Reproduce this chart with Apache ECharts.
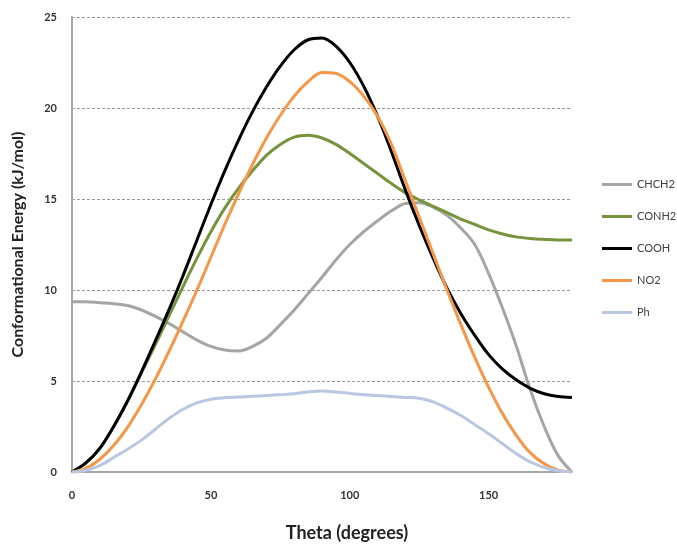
<!DOCTYPE html>
<html>
<head>
<meta charset="utf-8">
<script src="https://cdn.jsdelivr.net/npm/echarts@6/dist/echarts.min.js"></script>
<style>
  html, body { margin: 0; padding: 0; background: #fff; }
  #chart { width: 677px; height: 544px; }
</style>
</head>
<body>
<div id="chart"></div>
<script>
// theta (degrees), every 5
var theta = [0, 5, 10, 15, 20, 25, 30, 35, 40, 45, 50, 55, 60, 65, 70, 75, 80, 85, 90,
  95, 100, 105, 110, 115, 120, 125, 130, 135, 140, 145, 150, 155, 160, 165, 170, 175, 180]

// conformational energy (kJ/mol)
var chch2 = [9.35, 9.35, 9.3, 9.25, 9.15, 8.9, 8.55, 8.15, 7.7, 7.25, 6.9, 6.7, 6.65, 6.9, 7.35, 8.1, 8.9, 9.8, 10.7,
  11.65, 12.5, 13.2, 13.8, 14.35, 14.75, 14.8, 14.55, 14.1, 13.4, 12.5, 10.9, 9.0, 6.9, 4.5, 2.5, 0.9, 0]
var conh2 = [0, 0.5, 1.3, 2.5, 3.9, 5.45, 7.0, 8.6, 10.2, 11.75, 13.2, 14.5, 15.6, 16.55, 17.4, 18.0, 18.4, 18.5, 18.35,
  18.0, 17.5, 16.95, 16.4, 15.85, 15.35, 14.95, 14.6, 14.25, 13.9, 13.6, 13.3, 13.08, 12.92, 12.83, 12.78, 12.75, 12.75]
var cooh = [0, 0.5, 1.3, 2.5, 3.9, 5.5, 7.2, 8.95, 10.8, 12.75, 14.7, 16.55, 18.25, 19.8, 21.15, 22.3, 23.2, 23.75, 23.85,
  23.4, 22.5, 21.2, 19.55, 17.6, 15.5, 13.55, 11.75, 10.1, 8.7, 7.5, 6.45, 5.65, 5.05, 4.6, 4.3, 4.15, 4.1]
var no2 = [0, 0.2, 0.7, 1.45, 2.45, 3.7, 5.1, 6.65, 8.3, 10.0, 11.8, 13.6, 15.3, 16.9, 18.35, 19.6, 20.65, 21.45, 21.95,
  21.9, 21.45, 20.65, 19.55, 18.0, 16.0, 14.0, 12.0, 10.0, 8.1, 6.3, 4.65, 3.2, 2.0, 1.05, 0.45, 0.1, 0]
var ph = [0, 0.1, 0.35, 0.8, 1.25, 1.75, 2.35, 2.95, 3.45, 3.8, 4.0, 4.08, 4.12, 4.16, 4.2, 4.25, 4.3, 4.4, 4.45,
  4.4, 4.32, 4.25, 4.2, 4.15, 4.1, 4.05, 3.85, 3.5, 3.1, 2.6, 2.1, 1.55, 1.0, 0.55, 0.25, 0.07, 0]

var yTicks = [0, 5, 10, 15, 20, 25]
var xTicks = [0, 50, 100, 150]

function pairs(values) {
  return theta.map(function (t, i) { return [t, values[i]] })
}

function line(name, values, color) {
  return {
    name: name,
    type: 'line',
    smooth: 0.35,
    symbol: 'none',
    lineStyle: { width: 3, color: color },
    itemStyle: { color: color },
    data: pairs(values)
  }
}

var chart = echarts.init(document.getElementById('chart'))

chart.setOption({
  backgroundColor: '#fff',
  animation: false,
  textStyle: { fontFamily: 'Lato' },
  grid: { left: 72, right: 105, top: 17, bottom: 72, outerBoundsMode: 'none' },
  legend: {
    orient: 'vertical',
    left: 597,
    top: 174,
    icon: 'rect',
    itemWidth: 30,
    itemHeight: 3,
    itemGap: 21,
    textStyle: { fontSize: 11, color: '#404040' },
    data: ['CHCH2', 'CONH2', 'COOH', 'NO2', 'Ph']
  },
  xAxis: {
    type: 'value',
    min: 0,
    max: 180,
    interval: 50,
    name: 'Theta (degrees)',
    nameLocation: 'middle',
    nameGap: 52,
    nameTextStyle: { fontSize: 18, fontWeight: 'bold', color: '#222', padding: [0, 0, 0, 50] },
    axisLine: { lineStyle: { color: '#a6a6a6', width: 2 } },
    axisTick: { show: false },
    splitLine: { show: false },
    axisLabel: {
      margin: 18,
      fontSize: 11,
      fontWeight: 'bold',
      color: '#333',
      showMaxLabel: false,
      formatter: function (v) { return xTicks.indexOf(v) >= 0 ? v : '' }
    }
  },
  yAxis: {
    type: 'value',
    min: 0,
    max: 25,
    interval: 5,
    name: 'Conformational Energy (kJ/mol)',
    nameLocation: 'middle',
    nameGap: 46,
    nameTextStyle: { fontSize: 16, fontWeight: 'bold', color: '#222' },
    axisLine: { show: true, lineStyle: { color: '#a6a6a6', width: 2 } },
    axisTick: { show: false },
    splitLine: { lineStyle: { color: '#999', type: [3, 2], width: 1 } },
    axisLabel: {
      margin: 15,
      fontSize: 11,
      fontWeight: 'bold',
      color: '#333',
      formatter: function (v) { return yTicks.indexOf(v) >= 0 ? v : '' }
    }
  },
  series: [
    line('CHCH2', chch2, '#a5a5a5'),
    line('CONH2', conh2, '#77933c'),
    line('COOH', cooh, '#000000'),
    line('NO2', no2, '#f79646'),
    line('Ph', ph, '#b9c7e2')
  ]
})
</script>
</body>
</html>
